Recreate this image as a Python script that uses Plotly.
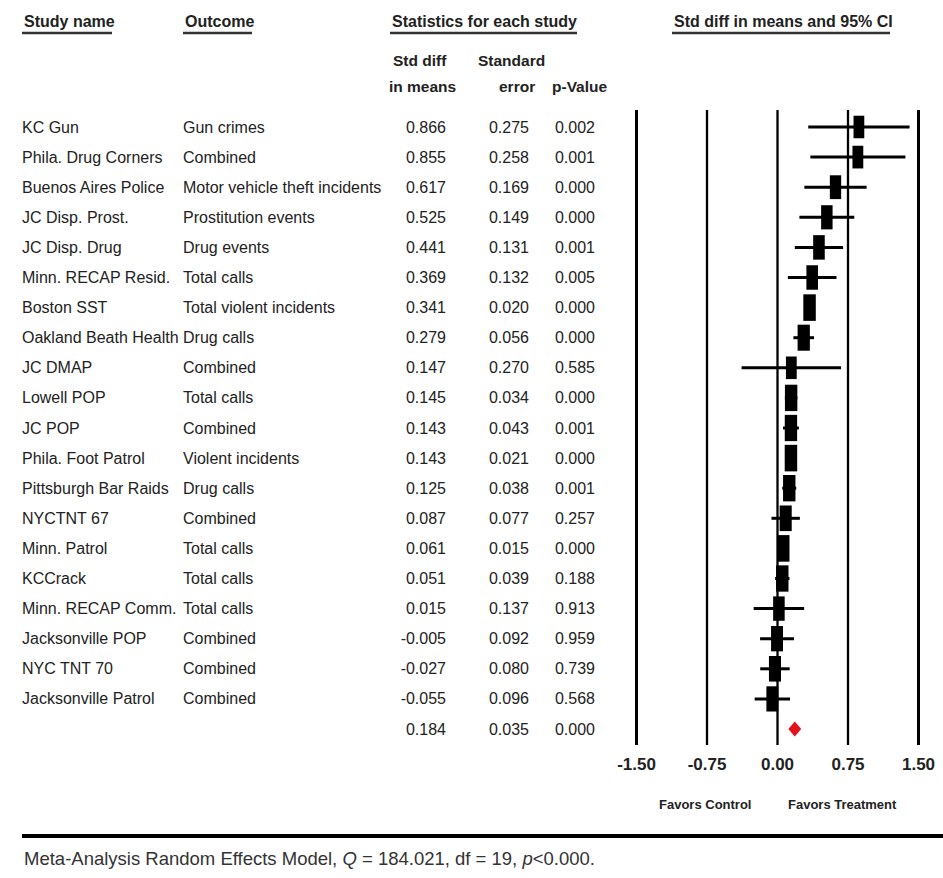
import numpy as np
import plotly.graph_objects as go

# ---------------- data ----------------
study_names = [
    "KC Gun", "Phila. Drug Corners", "Buenos Aires Police", "JC Disp. Prost.",
    "JC Disp. Drug", "Minn. RECAP Resid.", "Boston SST", "Oakland Beath Health",
    "JC DMAP", "Lowell POP", "JC POP", "Phila. Foot Patrol", "Pittsburgh Bar Raids",
    "NYCTNT 67", "Minn. Patrol", "KCCrack", "Minn. RECAP Comm.", "Jacksonville POP",
    "NYC TNT 70", "Jacksonville Patrol",
]
outcomes = [
    "Gun crimes", "Combined", "Motor vehicle theft incidents", "Prostitution events",
    "Drug events", "Total calls", "Total violent incidents", "Drug calls",
    "Combined", "Total calls", "Combined", "Violent incidents", "Drug calls",
    "Combined", "Total calls", "Total calls", "Total calls", "Combined",
    "Combined", "Combined",
]
std_diff = [0.866, 0.855, 0.617, 0.525, 0.441, 0.369, 0.341, 0.279, 0.147, 0.145,
            0.143, 0.143, 0.125, 0.087, 0.061, 0.051, 0.015, -0.005, -0.027, -0.055]
std_err = [0.275, 0.258, 0.169, 0.149, 0.131, 0.132, 0.020, 0.056, 0.270, 0.034,
           0.043, 0.021, 0.038, 0.077, 0.015, 0.039, 0.137, 0.092, 0.080, 0.096]
p_values = [0.002, 0.001, 0.000, 0.000, 0.001, 0.005, 0.000, 0.000, 0.585, 0.000,
            0.001, 0.000, 0.001, 0.257, 0.000, 0.188, 0.913, 0.959, 0.739, 0.568]
summary_diff = 0.184
summary_se = 0.035
summary_p = 0.000
tick_values = [-1.5, -0.75, 0.0, 0.75, 1.5]
tick_labels = ["-1.50", "-0.75", "0.00", "0.75", "1.50"]
q_stat = 184.021
q_df = 19
q_p_text = "<0.000"

# ---------------- layout helpers ----------------
W, H = 943, 878
ROW0, ROW_STEP = 127.0, 30.1          # pixel y of first row and row spacing
X0PX, XSCALE = 777.5, 94.0           # pixel x of effect 0 and pixels per unit
TEXT_DY = 1.5 / ROW_STEP             # small baseline nudge for text rows


def row_at(py):
    return (py - ROW0) / ROW_STEP


def px(x):
    return x / W


def py(y):
    return 1 - y / H


n = len(study_names)
rows = list(range(n))
all_rows = rows + [n]
text_rows = [r + TEXT_DY for r in rows]
text_rows_all = [r + TEXT_DY for r in all_rows]
TXT = "#222222"
FONT = "Liberation Sans, Arial, Helvetica, sans-serif"

fig = go.Figure()

# text columns
fig.add_trace(go.Scatter(
    x=[22] * n, y=text_rows, text=study_names, mode="text", xaxis="x2",
    textposition="middle right", textfont=dict(family=FONT, size=16, color=TXT),
    hoverinfo="skip", showlegend=False))
fig.add_trace(go.Scatter(
    x=[183] * n, y=text_rows, text=outcomes, mode="text", xaxis="x2",
    textposition="middle right", textfont=dict(family=FONT, size=16, color=TXT),
    hoverinfo="skip", showlegend=False))

diff_txt = [f"{v:.3f}" for v in std_diff + [summary_diff]]
se_txt = [f"{v:.3f}" for v in std_err + [summary_se]]
p_txt = [f"{v:.3f}" for v in p_values + [summary_p]]
for colx, txt in [(446, diff_txt), (529, se_txt), (595, p_txt)]:
    fig.add_trace(go.Scatter(
        x=[colx] * (n + 1), y=text_rows_all, text=txt, mode="text", xaxis="x2",
        textposition="middle left", textfont=dict(family=FONT, size=16, color=TXT),
        hoverinfo="skip", showlegend=False))

# random-effects weights for box sizes (DerSimonian-Laird)
y_arr = np.array(std_diff)
se_arr = np.array(std_err)
w = 1 / se_arr ** 2
ybar = np.sum(w * y_arr) / np.sum(w)
Q = np.sum(w * (y_arr - ybar) ** 2)
C = np.sum(w) - np.sum(w ** 2) / np.sum(w)
tau2 = max(0.0, (Q - (n - 1)) / C)
w_re = 1 / (se_arr ** 2 + tau2)
rel = np.sqrt(w_re / w_re.max())
box_w = 9.5 + 3 * rel
box_h = 14 + 5 * rel

# CI lines and boxes
fig.add_trace(go.Scatter(
    x=std_diff, y=rows, mode="markers",
    error_x=dict(type="data", array=list(1.96 * se_arr), symmetric=True,
                 color="black", thickness=3, width=0),
    marker=dict(symbol="line-ns", size=list(box_h), opacity=1, color="black",
                line=dict(color="black", width=list(box_w))),
    hoverinfo="skip", showlegend=False))

# summary diamond
lo = summary_diff - 1.96 * summary_se
hi = summary_diff + 1.96 * summary_se
fig.add_trace(go.Scatter(
    x=[lo, summary_diff, hi, summary_diff, lo],
    y=[n, n - 0.25, n, n + 0.25, n],
    mode="lines", fill="toself", fillcolor="#e3121b",
    line=dict(width=0, color="#e3121b"), hoverinfo="skip", showlegend=False))

# tick labels
fig.add_trace(go.Scatter(
    x=tick_values, y=[row_at(766)] * len(tick_values), text=tick_labels, mode="text",
    textposition="middle center",
    textfont=dict(family=FONT, size=17, color=TXT, weight="bold"),
    hoverinfo="skip", showlegend=False))

shapes = []
for tv in tick_values:
    shapes.append(dict(type="line", xref="x", yref="y", x0=tv, x1=tv,
                       y0=row_at(110), y1=row_at(745),
                       line=dict(color="black", width=3 if abs(tv) == 1.5 else 2.3)))

annotations = []


def ann(text, x, y, size, bold=False, xanchor="left", color=TXT):
    annotations.append(dict(
        text=text, x=px(x), y=py(y), xref="paper", yref="paper",
        xanchor=xanchor, yanchor="middle", showarrow=False,
        font=dict(family=FONT, size=size, color=color,
                  weight="bold" if bold else "normal")))


# headers
ann("Study name", 22, 21, 16, True)
ann("Outcome", 183, 21, 16, True)
ann("Statistics for each study", 390, 21, 16, True)
ann("Std diff in means and 95% CI", 672, 21, 16, True)
for x0, x1 in [(22, 112), (183, 252), (390, 577), (672, 890)]:
    shapes.append(dict(type="line", xref="paper", yref="paper",
                       x0=px(x0), x1=px(x1), y0=py(33), y1=py(33),
                       line=dict(color="#333333", width=2.5)))

ann("Std diff", 420, 60, 15.5, True, "center")
ann("in means", 422, 86, 15.5, True, "center")
ann("Standard", 511, 60, 15.5, True, "center")
ann("error", 517, 86, 15.5, True, "center")
ann("p-Value", 580, 86, 15.5, True, "center")

ann("Favors Control", 705, 804, 13, True, "center")
ann("Favors Treatment", 842, 804, 13, True, "center")

# bottom rule and footnote
shapes.append(dict(type="line", xref="paper", yref="paper",
                   x0=px(22), x1=1, y0=py(836), y1=py(836),
                   line=dict(color="black", width=4)))
ann(f"Meta-Analysis Random Effects Model, <i>Q</i> = {q_stat:.3f}, df = {q_df}, "
    f"<i>p</i>{q_p_text.replace('<', '&lt;')}.", 22, 858, 18.5, False, "left", "#333333")

fig.update_layout(
    width=W, height=H, margin=dict(l=0, r=0, t=0, b=0),
    paper_bgcolor="white", plot_bgcolor="white",
    xaxis=dict(range=[(0 - X0PX) / XSCALE, (W - X0PX) / XSCALE], domain=[0, 1],
               visible=False, fixedrange=True),
    xaxis2=dict(range=[0, W], domain=[0, 1], overlaying="x", visible=False,
                fixedrange=True),
    yaxis=dict(range=[row_at(H), row_at(0)], domain=[0, 1], visible=False,
               fixedrange=True),
    shapes=shapes, annotations=annotations, showlegend=False,
)

fig.write_html("out.html", config={"displayModeBar": False},
               post_script="document.body.style.margin='0px';")
